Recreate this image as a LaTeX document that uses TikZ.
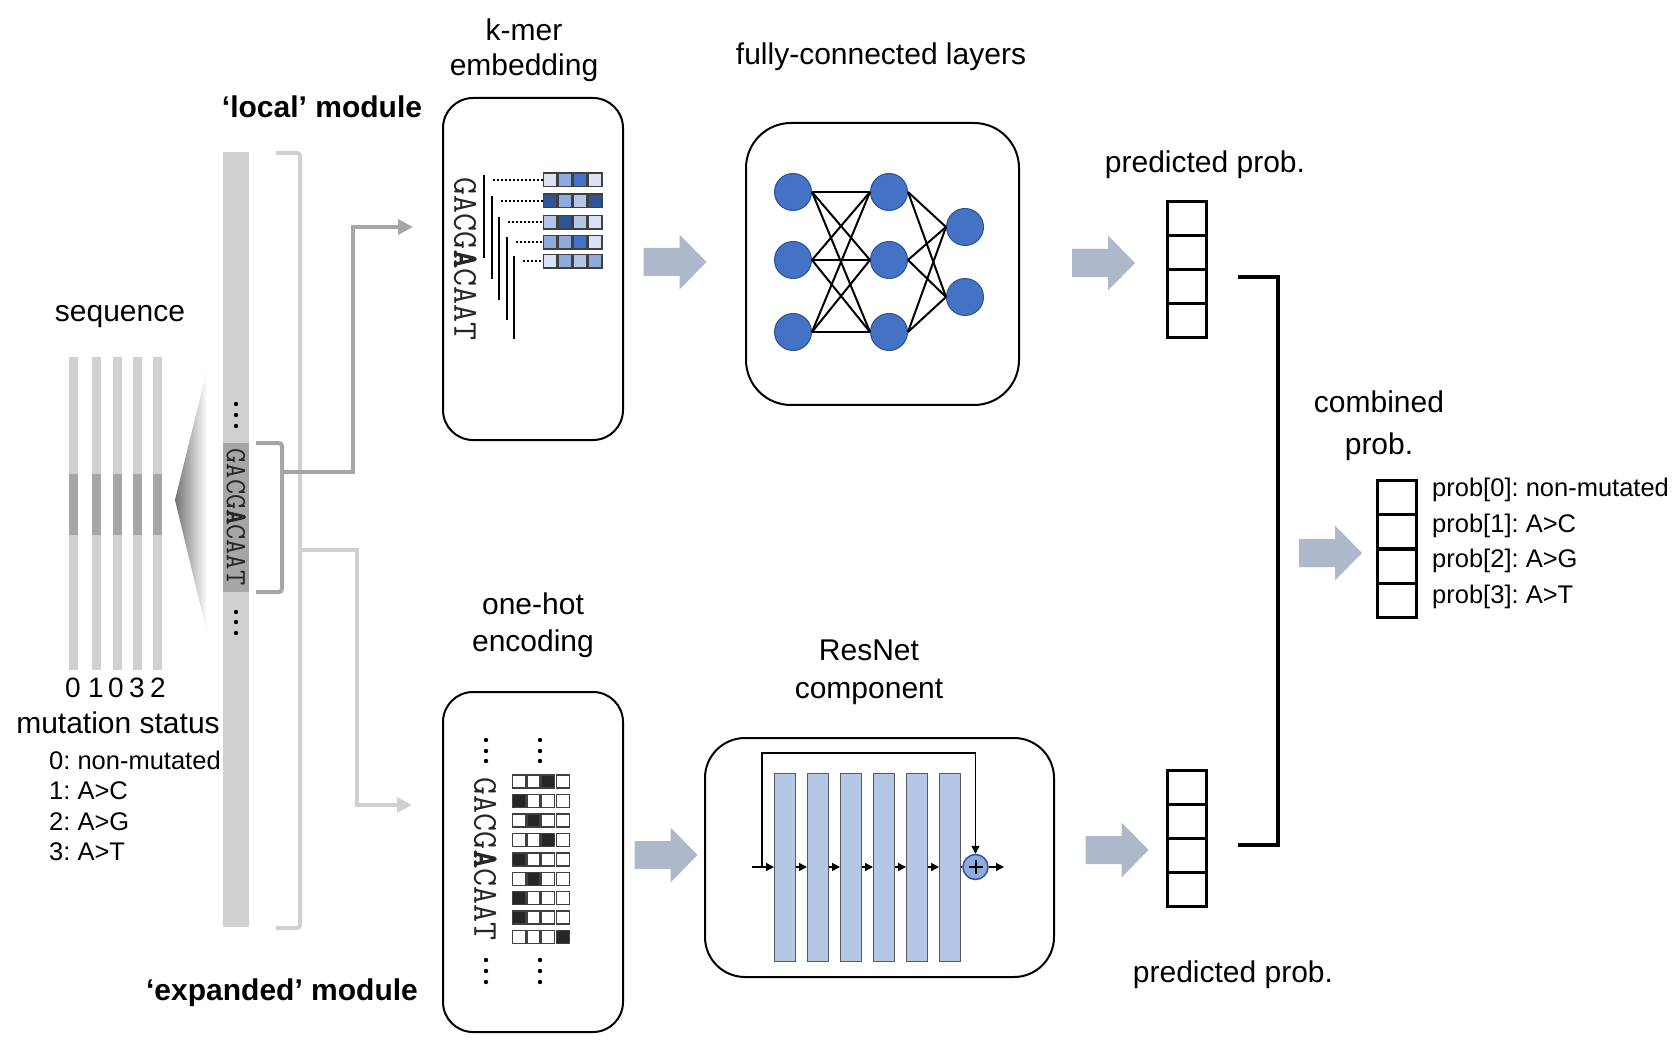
\documentclass[tikz,border=0pt]{standalone}
\usepackage{fontspec}
\setmainfont{Liberation Sans}
\newfontfamily\seqbold[FakeBold=3]{Latin Modern Mono}
\frenchspacing
\usetikzlibrary{positioning,arrows.meta,calc}

\definecolor{colgray}{HTML}{D0D0D0}
\definecolor{segdark}{HTML}{A6A6A6}
\definecolor{arrgray}{HTML}{ADB9CA}
\definecolor{kA}{HTML}{DAE3F3}
\definecolor{kB}{HTML}{B4C7E7}
\definecolor{kC}{HTML}{8FAADC}
\definecolor{kD}{HTML}{4472C4}
\definecolor{kE}{HTML}{2F5597}
\definecolor{nedge}{HTML}{2F528F}
\definecolor{hot}{HTML}{262626}

\newcommand{\bigfont}{\fontsize{30}{37}\selectfont}
\newcommand{\legfont}{\fontsize{25.5}{30}\selectfont}
\newcommand{\seqsize}[1]{\ttfamily\fontsize{#1}{#1}\selectfont}
\newcommand{\dna}{GACG{\seqbold A}CAAT}

\tikzset{
  blockarr/.pic={\fill[arrgray] (-31.5,-14) -- (4.5,-14) -- (4.5,-27.5) -- (31.5,0)
     -- (4.5,27.5) -- (4.5,14) -- (-31.5,14) -- cycle;}
}

\begin{document}
\begin{tikzpicture}[x=1pt,y=-1pt,
  lbl/.style={font=\bigfont,align=center,inner sep=0pt},
  leg/.style={font=\legfont,anchor=west,inner sep=0pt},
  box/.style={draw,line width=2pt,rounded corners=30pt,inner sep=0pt},
  cell/.style={draw,line width=3pt,minimum width=39pt,minimum height=34pt,inner sep=0pt},
  neuron/.style={circle,fill=kD,draw=nedge,line width=1pt,minimum size=37pt,inner sep=0pt},
  kbox/.style={draw=black!75,line width=1.5pt,minimum size=13.5pt,inner sep=0pt},
  hbox/.style={draw=black!75,line width=1.5pt,minimum size=13pt,inner sep=0pt},
  layer/.style={fill=kB,draw=black!65,line width=1pt,minimum width=21pt,minimum height=188pt,inner sep=0pt},
  resarr/.style={line width=1.5pt,-{Triangle[length=8pt,width=8pt]}},
  feed/.style={line width=4pt,-{Triangle[length=15pt,width=15pt]}},
  seq/.style={rotate=-90,inner sep=0pt,text=black!85}
]
\useasboundingbox (0,0) rectangle (1676,1040);

% sequence and mutation status
\node[lbl] (seqlbl) at (120,317) {sequence};
\foreach \x in {73.5,96.5,117.5,137.5,157.5} {
  \fill[colgray] (\x-4.5,357) rectangle (\x+4.5,670);
  \fill[segdark] (\x-4.5,474) rectangle (\x+4.5,535);
}
\foreach \x/\d [count=\i] in {73/0,96/1,116/0,137/3,158/2}
  \node[font=\fontsize{28}{28}\selectfont,inner sep=0pt] (st\i) at (\x,688) {\d};
\node[lbl] (mutlbl) at (118,723) {mutation status};
\node[leg] (m0) at (49,760) {0: non-mutated};
\node[leg] (m1) at (49,791) {1: A>C};
\node[leg] (m2) at (49,822) {2: A>G};
\node[leg] (m3) at (49,852) {3: A>T};
\shade[left color=black!55,right color=white] (175,500) -- (207,370) -- (207,633) -- cycle;

% zoomed column
\fill[colgray] (223,152) rectangle (249,927);
\fill[segdark] (223,443) rectangle (249,592);
\node[seq,font=\seqsize{29.5}] (colseq) at (236,517) {\dna};
\foreach \y in {404,415,426,612,622,633} \fill (236,\y) circle (2.2pt);
\coordinate (ot) at (276,153);
\coordinate (ob) at (276,928);
\coordinate (it) at (256,443);
\coordinate (ib) at (256,592);
\coordinate (isplit) at (282,472);
\coordinate (osplit) at (300,550);
\draw[colgray,line width=4pt,rounded corners=3pt] (ot) -- (300,153) -- (300,928) -- (ob);
\draw[segdark,line width=4pt,rounded corners=3pt] (it) -- (282,443) -- (282,592) -- (ib);
\coordinate (kin) at (413,227);
\coordinate (oin) at (412,805);
\draw[feed,segdark] (isplit) -| (353,227) -- (kin);
\draw[feed,colgray] (osplit) -| (357,805) -- (oin);

\node[lbl,font=\bigfont\bfseries] (local) at (322,107) {‘local’ module};
\node[lbl,font=\bigfont\bfseries] (expd) at (282,993) {‘expanded’ module};

% k-mer embedding
\node[lbl] (kmerlbl) at (524,50) {k-mer\\[-2pt]embedding};
\node[box,minimum width=180pt,minimum height=342pt] (kmerbox) at (533,269) {};
\node[seq,font=\seqsize{35}] (kseq) at (465,259) {\dna};
\foreach \r/\y/\cols in {1/180/{kA,kC,kD,kA},2/201/{kE,kC,kB,kE},3/222.5/{kB,kE,kB,kA},
                         4/242.5/{kC,kC,kD,kA},5/261.5/{kA,kC,kB,kC}} {
  \foreach \c [count=\j] in \cols
    \node[kbox,fill=\c] (k\r\j) at ({535+15*\j},\y) {};
  \coordinate (kl\r) at ({476.5+7.5*\r},{\y-5});
  \coordinate (kd\r) at ({485.5+7.5*\r},\y);
  \draw[line width=2pt] (kl\r) -- ++(0,83);
  \draw[dotted,line width=2pt] (kd\r) -- (k\r1.west);
}

% one-hot encoding
\node[lbl] (ohlbl) at (533,625) {one-hot\\encoding};
\node[box,minimum width=180pt,minimum height=340pt] (ohbox) at (533,862) {};
\node[seq,font=\seqsize{35}] (hseq) at (485,859) {\dna};
\foreach \r/\f in {1/3,2/1,3/2,4/3,5/1,6/2,7/1,8/1,9/4}
  \foreach \j in {1,...,4} {
    \ifnum\j=\f \def\hc{hot}\else\def\hc{white}\fi
    \node[hbox,fill=\hc] (h\r\j) at ({504.4+14.6*\j},{762.05+19.45*\r}) {};
  }
\foreach \x in {486,540}
  \foreach \y in {740,751,761,960,971,982} \fill (\x,\y) circle (2.2pt);

% fully-connected layers
\node[lbl] (fclbl) at (881,57) {fully-connected layers};
\node[box,rounded corners=45pt,minimum width=273pt,minimum height=282pt] (fcbox) at (882.5,264) {};
\node[neuron] (a1) at (793,192) {};
\node[neuron] (a2) at (793,260) {};
\node[neuron] (a3) at (793,332) {};
\node[neuron] (b1) at (889,192) {};
\node[neuron] (b2) at (889,260) {};
\node[neuron] (b3) at (889,332) {};
\node[neuron] (c1) at (965,227) {};
\node[neuron] (c2) at (965,297) {};
\foreach \i in {1,2,3} {
  \foreach \j in {1,2,3} \draw[line width=2pt] (a\i.east) -- (b\j.west);
  \foreach \j in {1,2} \draw[line width=2pt] (b\i.east) -- (c\j.west);
}

% ResNet component
\node[lbl] (reslbl) at (869,672) {ResNet\\[1pt]component};
\node[box,rounded corners=40pt,minimum width=349pt,minimum height=239pt] (resbox) at (879.5,857.5) {};
\foreach \i in {1,...,6} \node[layer] (r\i) at ({752+33*\i},867) {};
\coordinate (rin) at (752,867);
\coordinate (skip) at (762,867);
\coordinate (rout) at (1004,867);
\node[circle,fill=kC,draw=kE,line width=1.5pt,minimum size=25pt,inner sep=0pt] (plus) at (975.5,867) {};
\draw[line width=2pt] ($(plus)+(-7,0)$) -- ($(plus)+(7,0)$) ($(plus)+(0,-7)$) -- ($(plus)+(0,7)$);
\draw[resarr] (rin) -- (r1.west);
\foreach \i [evaluate=\i as \j using int(\i+1)] in {1,...,5} \draw[resarr] (r\i.east) -- (r\j.west);
\draw[line width=1.5pt] (r6.east) -- (plus.west);
\draw[resarr] (plus.east) -- (rout);
\draw[resarr] (skip) -- ++(0,-114) -| (plus.north);

% block arrows
\pic at (675,262) {blockarr};
\pic at (666,855) {blockarr};
\pic at (1103.5,263) {blockarr};
\pic at (1117,850) {blockarr};
\pic at (1330.5,553) {blockarr};

% predicted and combined probabilities
\node[lbl] (ptop) at (1205,165) {predicted prob.};
\node[lbl] (pbot) at (1233,975) {predicted prob.};
\foreach \i in {1,...,4} {
  \node[cell] (t\i) at (1186.5,{219+34*(\i-1)}) {};
  \node[cell] (u\i) at (1186.5,{787+34.25*(\i-1)}) {};
  \node[cell] (w\i) at (1396.5,{497.25+34.5*(\i-1)}) {};
}
\coordinate (jt) at (1238,277);
\coordinate (jb) at (1238,845);
\draw[line width=4pt] (jt) -- (1278,277) |- (jb);
\node[lbl] (comblbl) at (1379,426) {combined\\[5pt]prob.};
\foreach \t [count=\i from 0] in {non-mutated,A>C,A>G,A>T}
  \node[leg] (cl\i) at (1432,{490+35.7*\i}) {prob[\i]: \t};
\end{tikzpicture}
\end{document}
